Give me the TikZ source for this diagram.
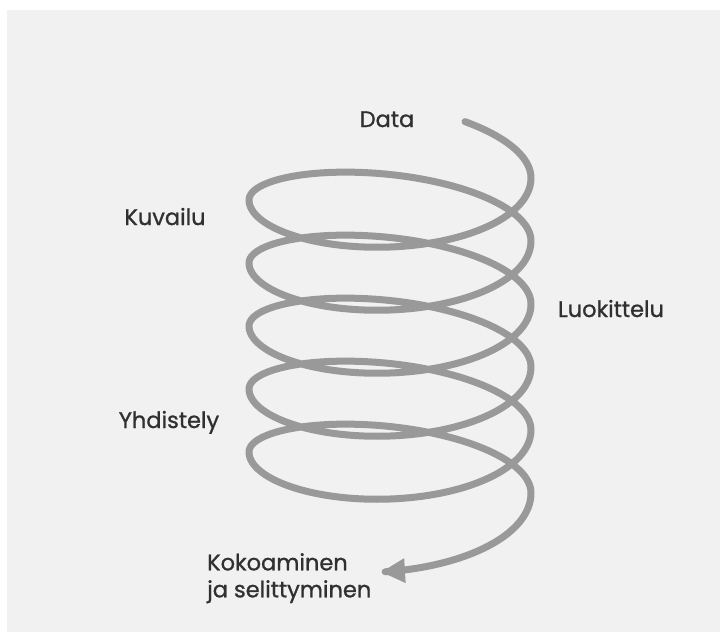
\documentclass[tikz,border=0pt]{standalone}
\usepackage{fontspec}
\setmainfont{Poppins}
\newfontfamily\lblfont{Poppins}[RawFeature={embolden=1.0}]
\usetikzlibrary{arrows.meta}
\definecolor{bgpanel}{HTML}{F1F1F1}
\definecolor{coil}{HTML}{999999}
\definecolor{labeltext}{HTML}{303030}
\tikzset{
  lbl/.style={anchor=base, inner sep=0pt, text=labeltext, font=\lblfont\fontsize{22.5}{27}\selectfont},
  coilline/.style={draw=coil, line width=7pt, line cap=round, line join=round}
}
\begin{document}
\begin{tikzpicture}[x=1pt, y=-1pt]
\useasboundingbox (0,0) rectangle (720,632);
\fill[white] (0,0) rectangle (720,632);
\fill[bgpanel] (7,10) rectangle (720,632);
% helix
\draw[coilline, -{Triangle[length=24pt, width=23pt]}]
  plot[domain=-1.01:33.058, samples=900, variable=\t, smooth]
  ({390+141*cos(\t r)},
   {173.25 + 52*sin(\t r) + 6*abs(sin(\t r)) + 4.75*cos(\t r) + 10.027*\t + 5*min(\t,0) + 6*max(\t-31.416,0)});
% labels
\node[lbl] (data) at (387,127) {Data};
\node[lbl] (kuvailu) at (165,225) {Kuvailu};
\node[lbl] (luokittelu) at (611,317) {Luokittelu};
\node[lbl] (yhdistely) at (169,428) {Yhdistely};
\node[lbl, anchor=north west, align=left] (kokoaminen) at (207,553) {Kokoaminen\\ja selittyminen};
\end{tikzpicture}
\end{document}
